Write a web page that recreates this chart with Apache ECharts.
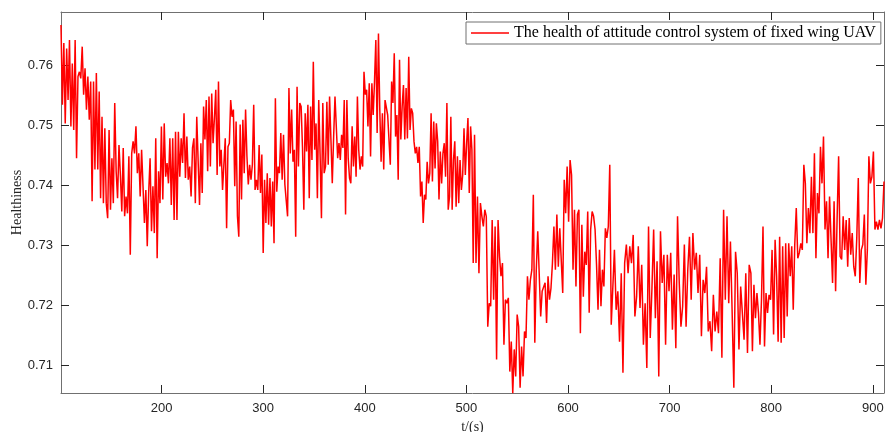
<!DOCTYPE html>
<html>
<head>
<meta charset="utf-8">
<script src="https://cdn.jsdelivr.net/npm/echarts@6/dist/echarts.min.js"></script>
<style>
  html, body { margin: 0; padding: 0; background: #fff; }
  #chart { width: 885px; height: 432px; }
</style>
</head>
<body>
<div id="chart"></div>
<script>
// health values, one array per stretch of time
var seg1 = [0.7667, 0.7534, 0.7637, 0.7503, 0.7628, 0.7542, 0.7642, 0.7498, 0.7603, 0.7492, 0.7642, 0.7445, 0.7581, 0.7589, 0.7578, 0.7631, 0.7551, 0.7595, 0.7526, 0.7581, 0.7509, 0.7573, 0.7373, 0.7573, 0.7426, 0.7587, 0.7426, 0.7556, 0.7378, 0.7514, 0.7370, 0.7495, 0.7370, 0.7345, 0.7492, 0.7359, 0.7445, 0.7370, 0.7537, 0.7423, 0.7378, 0.7467, 0.7417, 0.7356, 0.7462, 0.7348, 0.7381, 0.7353, 0.7448, 0.7284, 0.7453, 0.7473, 0.7453, 0.7498, 0.7420, 0.7453, 0.7381, 0.7459, 0.7398, 0.7337, 0.7392, 0.7298, 0.7387, 0.7445, 0.7323, 0.7398, 0.7320, 0.7478, 0.7278, 0.7423, 0.7370, 0.7498, 0.7376, 0.7503, 0.7414, 0.7437, 0.7403, 0.7478, 0.7367, 0.7478, 0.7342, 0.7489, 0.7342, 0.7489, 0.7414, 0.7478, 0.7437, 0.7520, 0.7412, 0.7481, 0.7409, 0.7431, 0.7381, 0.7462, 0.7478, 0.7370, 0.7514];
var seg2 = [0.7514, 0.7367, 0.7470, 0.7387, 0.7531, 0.7476, 0.7542, 0.7423, 0.7548, 0.7431, 0.7553, 0.7470, 0.7512, 0.7559, 0.7417, 0.7573, 0.7431, 0.7459, 0.7392, 0.7389, 0.7478, 0.7328, 0.7464, 0.7470, 0.7542, 0.7514, 0.7526, 0.7398, 0.7506, 0.7348, 0.7314, 0.7501, 0.7376, 0.7509, 0.7420, 0.7526, 0.7448, 0.7401, 0.7434, 0.7409, 0.7434, 0.7534, 0.7392, 0.7409, 0.7392, 0.7467, 0.7387, 0.7451, 0.7287, 0.7409, 0.7337, 0.7420, 0.7334, 0.7412, 0.7331, 0.7406, 0.7303, 0.7545, 0.7389, 0.7431, 0.7420, 0.7487, 0.7409, 0.7484, 0.7401, 0.7398, 0.7348, 0.7562, 0.7453, 0.7526, 0.7439, 0.7459, 0.7314, 0.7564, 0.7431, 0.7537, 0.7531, 0.7464, 0.7359, 0.7520, 0.7456, 0.7534, 0.7378, 0.7531, 0.7442, 0.7606, 0.7459, 0.7503, 0.7378, 0.7542, 0.7451, 0.7345, 0.7537, 0.7420, 0.7431, 0.7539, 0.7434, 0.7548, 0.7476, 0.7403, 0.7481, 0.7548];
var seg3 = [0.7545, 0.7445, 0.7470, 0.7442, 0.7484, 0.7462, 0.7542, 0.7351, 0.7542, 0.7445, 0.7412, 0.7403, 0.7498, 0.7431, 0.7481, 0.7414, 0.7548, 0.7459, 0.7426, 0.7448, 0.7431, 0.7589, 0.7551, 0.7559, 0.7498, 0.7570, 0.7448, 0.7570, 0.7517, 0.7573, 0.7642, 0.7487, 0.7653, 0.7526, 0.7439, 0.7520, 0.7426, 0.7542, 0.7545, 0.7517, 0.7517, 0.7434, 0.7573, 0.7537, 0.7620, 0.7481, 0.7517, 0.7409, 0.7609, 0.7476, 0.7531, 0.7567, 0.7476, 0.7562, 0.7478, 0.7614, 0.7492, 0.7528, 0.7520, 0.7473, 0.7453, 0.7464, 0.7437, 0.7464, 0.7381, 0.7406, 0.7337, 0.7384, 0.7376, 0.7439, 0.7403, 0.7420, 0.7520, 0.7406, 0.7506, 0.7428, 0.7503, 0.7473, 0.7376, 0.7456, 0.7403, 0.7453, 0.7470, 0.7414, 0.7537, 0.7359, 0.7381, 0.7514, 0.7359, 0.7442, 0.7473, 0.7364, 0.7448, 0.7370, 0.7442, 0.7392, 0.7417, 0.7495, 0.7417, 0.7470, 0.7512, 0.7387, 0.7498, 0.7459, 0.7270];
var seg4 = [0.7484, 0.7270, 0.7381, 0.7253, 0.7370, 0.7348, 0.7331, 0.7359, 0.7348, 0.7164, 0.7203, 0.7198, 0.7342, 0.7209, 0.7331, 0.7109, 0.7342, 0.7281, 0.7248, 0.7270, 0.7134, 0.7209, 0.7203, 0.7212, 0.7089, 0.7139, 0.7053, 0.7126, 0.7081, 0.7184, 0.7164, 0.7062, 0.7131, 0.7081, 0.7156, 0.7145, 0.7248, 0.7209, 0.7242, 0.7259, 0.7384, 0.7137, 0.7259, 0.7323, 0.7320, 0.7181, 0.7223, 0.7220, 0.7237, 0.7170, 0.7248, 0.7209, 0.7228, 0.7270, 0.7331, 0.7259, 0.7351, 0.7264, 0.7328, 0.7326, 0.7220, 0.7409, 0.7353, 0.7431, 0.7339, 0.7442, 0.7417, 0.7259, 0.7359, 0.7231, 0.7351, 0.7359, 0.7153, 0.7334, 0.7214, 0.7289, 0.7267, 0.7356, 0.7187, 0.7326, 0.7356, 0.7348, 0.7326, 0.7267, 0.7192, 0.7292, 0.7198, 0.7259, 0.7231, 0.7328, 0.7312, 0.7331, 0.7434, 0.7167];
var seg5 = [0.7170, 0.7292, 0.7192, 0.7223, 0.7139, 0.7253, 0.7087, 0.7270, 0.7301, 0.7253, 0.7298, 0.7270, 0.7317, 0.7181, 0.7214, 0.7298, 0.7195, 0.7267, 0.7134, 0.7203, 0.7095, 0.7331, 0.7145, 0.7228, 0.7326, 0.7178, 0.7273, 0.7081, 0.7323, 0.7237, 0.7284, 0.7134, 0.7284, 0.7223, 0.7287, 0.7159, 0.7251, 0.7128, 0.7348, 0.7237, 0.7164, 0.7198, 0.7301, 0.7164, 0.7259, 0.7314, 0.7209, 0.7320, 0.7259, 0.7287, 0.7220, 0.7284, 0.7148, 0.7242, 0.7220, 0.7264, 0.7156, 0.7173, 0.7123, 0.7217, 0.7156, 0.7189, 0.7153, 0.7278, 0.7112, 0.7359, 0.7209, 0.7348, 0.7203, 0.7306, 0.7189, 0.7062, 0.7289, 0.7253, 0.7126, 0.7231, 0.7234, 0.7142, 0.7253, 0.7120, 0.7267];
var seg6 = [0.7253, 0.7123, 0.7234, 0.7178, 0.7220, 0.7187, 0.7134, 0.7209, 0.7331, 0.7131, 0.7220, 0.7187, 0.7217, 0.7209, 0.7292, 0.7151, 0.7309, 0.7248, 0.7139, 0.7314, 0.7137, 0.7298, 0.7145, 0.7303, 0.7181, 0.7303, 0.7248, 0.7298, 0.7192, 0.7301, 0.7362, 0.7278, 0.7287, 0.7303, 0.7292, 0.7434, 0.7403, 0.7303, 0.7362, 0.7320, 0.7414, 0.7320, 0.7453, 0.7278, 0.7387, 0.7353, 0.7464, 0.7403, 0.7481, 0.7326, 0.7373, 0.7278, 0.7381, 0.7378, 0.7237, 0.7373, 0.7223, 0.7345, 0.7448, 0.7281, 0.7276, 0.7348, 0.7292, 0.7342, 0.7264, 0.7345, 0.7284, 0.7320, 0.7264, 0.7248, 0.7312, 0.7412, 0.7237, 0.7292, 0.7301, 0.7351, 0.7234, 0.7292, 0.7448, 0.7403, 0.7414, 0.7456, 0.7326, 0.7339, 0.7326, 0.7342, 0.7328, 0.7345, 0.7406];

// time (s) where each stretch starts, and where the last one ends
var segStart = [101, 236, 372, 508, 644, 780];
var segEnd = 911;

var xTicks = [200, 300, 400, 500, 600, 700, 800, 900];
var yTicks = [0.71, 0.72, 0.73, 0.74, 0.75, 0.76];

var seriesName = 'The health of attitude control system of fixed wing UAV';

var segs = [seg1, seg2, seg3, seg4, seg5, seg6];
var lineData = [];
segs.forEach(function (seg, k) {
  var t0 = segStart[k];
  var t1 = k < segs.length - 1 ? segStart[k + 1] : segEnd;
  var step = (t1 - t0) / (k < segs.length - 1 ? seg.length : seg.length - 1);
  seg.forEach(function (v, i) {
    lineData.push([t0 + i * step, v]);
  });
});

var chart = echarts.init(document.getElementById('chart'), null, { renderer: 'canvas' });

var axisColor = '#707070';
var labelFont = { color: '#262626', fontSize: 13, fontFamily: 'Liberation Sans, Arial, sans-serif' };

var option = {
  animation: false,
  backgroundColor: '#fff',
  grid: { left: 61, right: 1, top: 12, bottom: 39, containLabel: false, outerBoundsMode: 'none' },
  legend: {
    left: 466,
    top: 22,
    padding: [3, 5, 3, 5],
    icon: 'rect',
    itemWidth: 38,
    itemHeight: 1.5,
    backgroundColor: '#fff',
    borderColor: axisColor,
    borderWidth: 1,
    borderRadius: 0,
    textStyle: { color: '#000', fontSize: 16, fontFamily: 'Liberation Serif, Times New Roman, serif' },
    data: [seriesName]
  },
  xAxis: [{
    type: 'value',
    min: 101,
    max: 911,
    name: 't/(s)',
    nameLocation: 'middle',
    nameGap: 22,
    nameTextStyle: { color: '#262626', fontSize: 14, fontFamily: 'Liberation Serif, Times New Roman, serif' },
    splitLine: { show: false },
    axisLine: { lineStyle: { color: axisColor, width: 1 } },
    axisTick: { inside: true, length: 8, customValues: xTicks, lineStyle: { color: '#262626' } },
    axisLabel: Object.assign({ customValues: xTicks, margin: 9 }, labelFont)
  }, {
    type: 'value',
    position: 'top',
    min: 101,
    max: 911,
    splitLine: { show: false },
    axisLine: { lineStyle: { color: axisColor, width: 1 } },
    axisTick: { inside: true, length: 8, customValues: xTicks, lineStyle: { color: '#262626' } },
    axisLabel: { show: false }
  }],
  yAxis: [{
    type: 'value',
    min: 0.70533,
    max: 0.76888,
    name: 'Healthiness',
    nameLocation: 'middle',
    nameGap: 37,
    nameMoveOverlap: false,
    nameTextStyle: { color: '#262626', fontSize: 14, fontFamily: 'Liberation Serif, Times New Roman, serif' },
    splitLine: { show: false },
    axisLine: { show: true, lineStyle: { color: axisColor, width: 1 } },
    axisTick: { show: true, inside: true, length: 8, customValues: yTicks, lineStyle: { color: '#262626' } },
    axisLabel: Object.assign({ customValues: yTicks, margin: 8, formatter: function (v) { return v.toFixed(2); } }, labelFont)
  }, {
    type: 'value',
    position: 'right',
    min: 0.70533,
    max: 0.76888,
    splitLine: { show: false },
    axisLine: { show: true, lineStyle: { color: axisColor, width: 1 } },
    axisTick: { show: true, inside: true, length: 8, customValues: yTicks, lineStyle: { color: '#262626' } },
    axisLabel: { show: false }
  }],
  series: [{
    name: seriesName,
    type: 'line',
    data: lineData,
    showSymbol: false,
    symbol: 'none',
    lineStyle: { color: '#ff0000', width: 1.5 },
    itemStyle: { color: '#ff0000' }
  }]
};

chart.setOption(option);
</script>
</body>
</html>
